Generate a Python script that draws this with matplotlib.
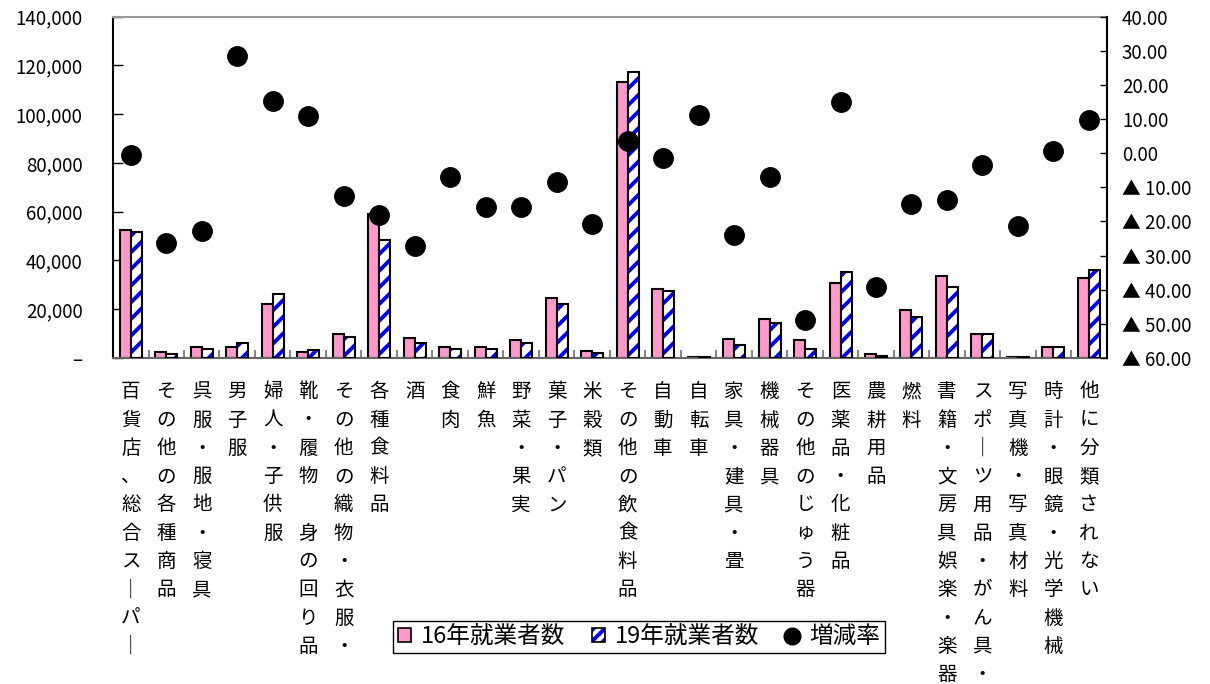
import numpy as np
import matplotlib
matplotlib.use("Agg")
import matplotlib.pyplot as plt
from matplotlib.patches import Patch
from matplotlib.lines import Line2D
from matplotlib.legend_handler import HandlerTuple
from matplotlib.ticker import FuncFormatter, MultipleLocator
import matplotlib.transforms as mtransforms

plt.rcParams['font.family'] = ['Noto Sans CJK JP', 'DejaVu Sans']
plt.rcParams['hatch.linewidth'] = 2.8

categories = [
    '百貨店、総合スーパー', 'その他の各種商品', '呉服・服地・寝具', '男子服',
    '婦人・子供服', '靴・履物　身の回り品', 'その他の織物・衣服・', '各種食料品',
    '酒', '食肉', '鮮魚', '野菜・果実', '菓子・パン', '米穀類',
    'その他の飲食料品', '自動車', '自転車', '家具・建具・畳', '機械器具',
    'その他のじゅう器', '医薬品・化粧品', '農耕用品', '燃料',
    '書籍・文房具娯楽・楽器', 'スポーツ用品・がん具・', '写真機・写真材料',
    '時計・眼鏡・光学機械', '他に分類されない',
]

# 就業者数 (人)
workers_16 = [52300, 2300, 4600, 4600, 22200, 2300, 10000, 59000,
              8300, 4500, 4500, 7500, 24600, 2900,
              113400, 28200, 500, 7700, 16000,
              7500, 30700, 1500, 19800,
              33500, 9900, 400, 4600, 33000]
workers_19 = [51600, 1600, 3700, 6200, 26100, 3200, 8500, 48400,
              6200, 3700, 3700, 6200, 22300, 2200,
              117400, 27600, 400, 5300, 14500,
              3600, 35300, 700, 16800,
              29100, 9900, 300, 4600, 36100]
# 増減率 (%)
change_rate = [-0.6, -26.2, -22.8, 28.5, 15.3, 10.9, -12.5, -18.0,
               -27.3, -7.0, -15.8, -15.8, -8.3, -20.8,
               3.5, -1.5, 11.1, -24.1, -7.0,
               -48.8, 14.9, -39.1, -14.8,
               -13.7, -3.5, -21.4, 0.6, 9.7]

PINK = '#FF99CC'
BLUE = '#0000FF'

fig = plt.figure(figsize=(12.1, 6.84), dpi=100)
ax = fig.add_axes([0.0934, 0.4766, 0.8212, 0.4990])

x = np.arange(len(categories))
w = 0.31

ax.bar(x - w / 2, workers_16, w, facecolor=PINK, edgecolor='black',
       linewidth=1.5, zorder=2)
ax.bar(x + w / 2, workers_19, w, facecolor='white', edgecolor=BLUE,
       hatch='//', linewidth=0, zorder=2)
ax.bar(x + w / 2, workers_19, w, facecolor='none', edgecolor='black',
       linewidth=1.5, zorder=3)

ax.set_xlim(-0.5, len(categories) - 0.5)
ax.set_ylim(0, 140000)
ax.yaxis.set_major_locator(MultipleLocator(20000))
ax.yaxis.set_major_formatter(
    FuncFormatter(lambda v, p: '–' if v == 0 else f'{v:,.0f}'))
ax.tick_params(axis='y', direction='in', length=7, width=1, pad=22,
               labelsize=13.5, colors='black')
ax.set_xticks([])
ax.set_xticks(np.arange(0.5, len(categories) - 0.5, 1), minor=True)
ax.tick_params(axis='x', which='minor', direction='in', length=6,
               width=1.5, color='#888888')

ax.spines['left'].set_linewidth(1.5)
ax.spines['bottom'].set_color('#666666')
ax.spines['bottom'].set_linewidth(1.5)
ax.spines['top'].set_color('#999999')
ax.spines['top'].set_linewidth(1.5)
ax.spines['right'].set_visible(False)

ax2 = ax.twinx()
ax2.plot(x, change_rate, 'o', color='black', markersize=14, zorder=5)
ax2.set_ylim(-60, 40)
ax2.yaxis.set_major_locator(MultipleLocator(10))


def rate_fmt(v, p):
    if abs(v) < 1e-9:
        return '0.00'
    if v < 0:
        return f'▲ {abs(v):.2f}'
    return f'{v:.2f}'


ax2.yaxis.set_major_formatter(FuncFormatter(rate_fmt))
ax2.tick_params(axis='y', direction='in', length=5, width=1, pad=11,
                labelsize=13.5)
for s in ['left', 'top', 'bottom']:
    ax2.spines[s].set_visible(False)
ax2.spines['right'].set_linewidth(1.5)

# vertical category labels, one character per row
vertical_forms = {'ー': '｜'}
trans = mtransforms.blended_transform_factory(ax.transData, fig.transFigure)
row0 = 1 - 391.7 / 684
row_h = 28.3 / 684
for i, name in enumerate(categories):
    for j, ch in enumerate(name):
        if ch == '　':
            continue
        ax.text(i, row0 - j * row_h, vertical_forms.get(ch, ch),
                transform=trans, ha='center', va='center', fontsize=14,
                clip_on=False)

handles = [
    Patch(facecolor=PINK, edgecolor='black', linewidth=1.2),
    (Patch(facecolor='white', edgecolor=BLUE, hatch='///', linewidth=0),
     Patch(facecolor='none', edgecolor='black', linewidth=1.2)),
    Line2D([], [], marker='o', color='black', linestyle='none', markersize=12),
]
leg = fig.legend(handles, ['16年就業者数', '19年就業者数', '増減率'],
                 handler_map={tuple: HandlerTuple(ndivide=1)},
                 loc='center', bbox_to_anchor=(0.528, 0.069), ncol=3,
                 fontsize=17, frameon=True, fancybox=False, framealpha=1,
                 edgecolor='black', handlelength=0.55, handleheight=0.5,
                 handletextpad=0.45, columnspacing=1.1, borderpad=0.2,
                 borderaxespad=0)
leg.get_frame().set_linewidth(1.0)

fig.savefig('out.png', dpi=100)
